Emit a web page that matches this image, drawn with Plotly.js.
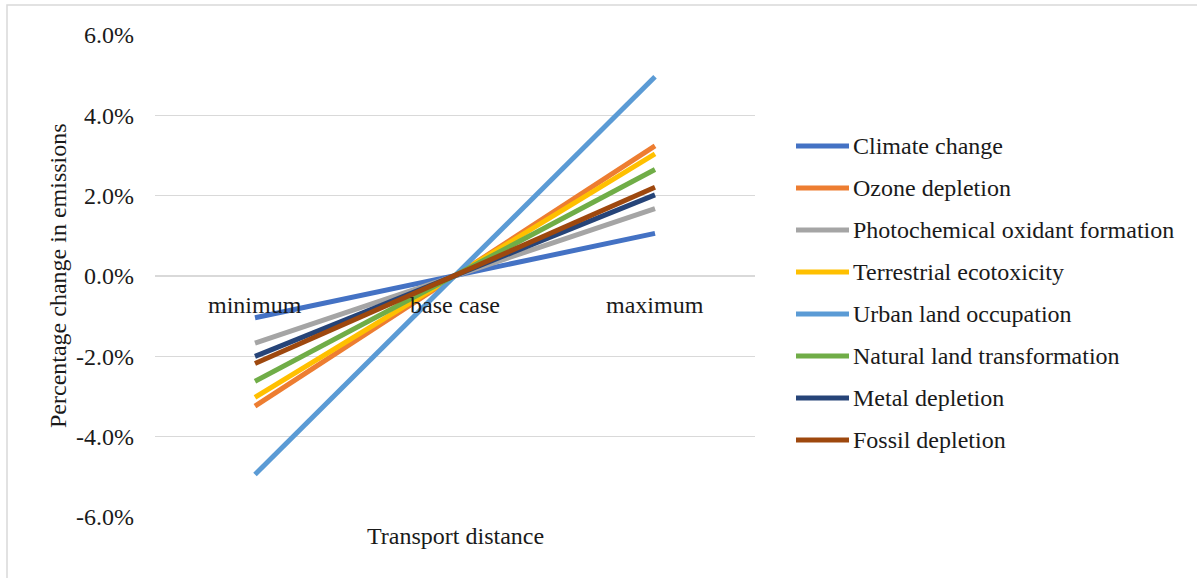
<!DOCTYPE html>
<html>
<head>
<meta charset="utf-8">
<script src="https://cdn.plot.ly/plotly-3.0.1.min.js"></script>
<style>
  html, body { margin: 0; padding: 0; background: #ffffff; }
  #chart { width: 1197px; height: 578px; }
</style>
</head>
<body>
<div id="chart"></div>
<script>
// Scenario categories along the horizontal axis
const categories = ['minimum', 'base case', 'maximum'];

// Percentage change in emissions for each impact category
const seriesNames = [
  'Climate change',
  'Ozone depletion',
  'Photochemical oxidant formation',
  'Terrestrial ecotoxicity',
  'Urban land occupation',
  'Natural land transformation',
  'Metal depletion',
  'Fossil depletion'
];
const climateChange        = [-1.04, 0, 1.06];
const ozoneDepletion       = [-3.24, 0, 3.24];
const photochemicalOxidant = [-1.67, 0, 1.68];
const terrestrialEcotox    = [-3.02, 0, 3.04];
const urbanLandOccupation  = [-4.94, 0, 4.96];
const naturalLandTransf    = [-2.62, 0, 2.65];
const metalDepletion       = [-2.00, 0, 2.02];
const fossilDepletion      = [-2.18, 0, 2.21];

const seriesValues = [
  climateChange, ozoneDepletion, photochemicalOxidant, terrestrialEcotox,
  urbanLandOccupation, naturalLandTransf, metalDepletion, fossilDepletion
];
const seriesColors = [
  '#4472C4', '#ED7D31', '#A5A5A5', '#FFC000',
  '#5B9BD5', '#70AD47', '#264478', '#9E480E'
];

// Y axis ticks
const yTickVals = [-6, -4, -2, 0, 2, 4, 6];
const yTickText = ['-6.0%', '-4.0%', '-2.0%', '0.0%', '2.0%', '4.0%', '6.0%'];

const FONT = 'Liberation Serif, Times New Roman, serif';
const TEXT_COLOR = '#1a1a1a';
const FS = 24;

// Plot area in pixels
const W = 1197, H = 578;
const PL = 155, PR = 755, PT = 35, PB = 517;
const px = x => (x - PL) / (PR - PL);
const py = y => (PB - y) / (PB - PT);

const traces = seriesValues.map((vals, i) => ({
  type: 'scatter',
  mode: 'lines',
  x: categories,
  y: vals,
  name: seriesNames[i],
  line: { color: seriesColors[i], width: 5 },
  showlegend: false,
  hoverinfo: 'name+y'
}));

const shapes = [];
const annotations = [];

// Legend drawn beside the plot
seriesNames.forEach((name, i) => {
  const rowY = 146 + 42 * i;
  shapes.push({
    type: 'line', xref: 'paper', yref: 'paper',
    x0: px(796), x1: px(849), y0: py(rowY), y1: py(rowY),
    line: { color: seriesColors[i], width: 5 }
  });
  annotations.push({
    xref: 'paper', yref: 'paper', x: px(851), y: py(rowY),
    xanchor: 'left', yanchor: 'middle', showarrow: false,
    text: name, font: { family: FONT, size: FS, color: TEXT_COLOR }
  });
});

// Category labels sit just under the zero line
categories.forEach(c => {
  annotations.push({
    xref: 'x', yref: 'y', x: c, y: 0, yshift: -29,
    xanchor: 'center', yanchor: 'middle', showarrow: false,
    text: c, font: { family: FONT, size: FS, color: TEXT_COLOR }
  });
});

// Axis titles
annotations.push({
  xref: 'paper', yref: 'paper', x: 0.5, y: py(536),
  xanchor: 'center', yanchor: 'middle', showarrow: false,
  text: 'Transport distance', font: { family: FONT, size: FS, color: TEXT_COLOR }
});
annotations.push({
  xref: 'paper', yref: 'paper', x: px(58), y: py(276),
  xanchor: 'center', yanchor: 'middle', showarrow: false, textangle: -90,
  text: 'Percentage change in emissions', font: { family: FONT, size: FS, color: TEXT_COLOR }
});

// Chart frame
shapes.push({
  type: 'rect', xref: 'paper', yref: 'paper', layer: 'below',
  x0: px(7), x1: px(1203), y0: py(584), y1: py(5),
  line: { color: '#d9d9d9', width: 1.5 }
});

const layout = {
  width: W, height: H,
  margin: { l: PL, r: W - PR, t: PT, b: H - PB, pad: 0 },
  paper_bgcolor: '#ffffff',
  plot_bgcolor: '#ffffff',
  font: { family: FONT, size: FS, color: TEXT_COLOR },
  xaxis: {
    type: 'category',
    range: [-0.5, 2.5],
    showgrid: false, showline: false, zeroline: false,
    showticklabels: false, ticks: '', fixedrange: true
  },
  yaxis: {
    range: [-6, 6],
    tickvals: yTickVals, ticktext: yTickText,
    showgrid: true, gridcolor: '#d9d9d9', gridwidth: 1.3,
    zeroline: true, zerolinecolor: '#d9d9d9', zerolinewidth: 1.3,
    showline: false, ticks: '',
    ticklabelstandoff: 20,
    tickfont: { family: FONT, size: FS, color: TEXT_COLOR },
    fixedrange: true
  },
  showlegend: false,
  shapes: shapes,
  annotations: annotations
};

Plotly.newPlot('chart', traces, layout, { displayModeBar: false, staticPlot: true });
</script>
</body>
</html>
